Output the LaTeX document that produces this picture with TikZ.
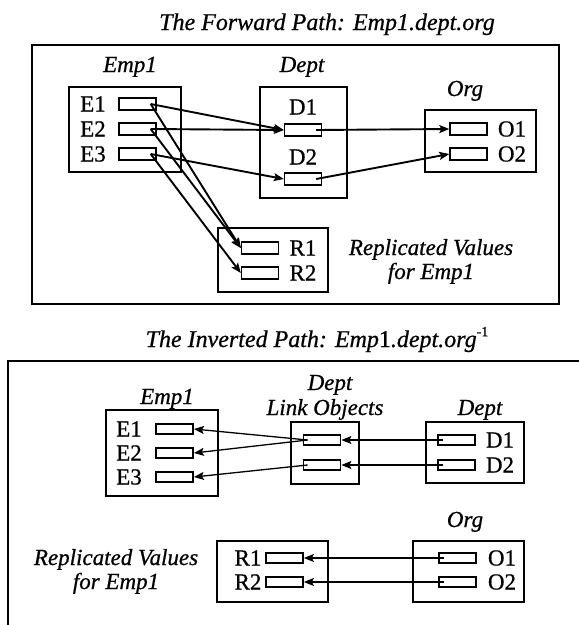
\documentclass[tikz,border=0pt]{standalone}
\usepackage{fontspec}
\setmainfont{Liberation Serif}[UprightFeatures={FakeBold=0.7},ItalicFeatures={FakeBold=0.7}]
\usetikzlibrary{arrows.meta}
\begin{document}
\begin{tikzpicture}[x=1pt,y=-1pt,
  lbl/.style={font=\fontsize{23}{26}\selectfont\itshape, inner sep=0pt, anchor=base},
  ttl/.style={font=\fontsize{24}{27}\selectfont\itshape, inner sep=0pt, anchor=base},
  txt/.style={font=\fontsize{23}{26}\selectfont, inner sep=0pt, anchor=base},
  box/.style={draw, line width=1.5pt, inner sep=0pt},
  cell/.style={draw, line width=1.4pt, minimum width=37pt, minimum height=12pt, inner sep=0pt},
  cellb/.style={draw, line width=1.8pt, minimum width=37pt, minimum height=10.5pt, inner sep=0pt},
  arr/.style={-{Stealth[length=10pt,width=8pt,inset=2pt]}, line width=1.9pt},
  arrb/.style={-{Stealth[length=10pt,width=8pt,inset=2pt]}, line width=1.3pt},
  frame/.style={draw, line width=1.2pt}
]
\useasboundingbox (0,0) rectangle (579,625);

% ================= Forward path =================
\node[ttl] (t1) at (327,30) {The Forward Path: Emp1.dept.org};
\draw[frame] (32,45) rectangle (559,304);

% Emp1
\node[lbl] (emplab) at (130,72) {Emp1};
\node[box, minimum width=112pt, minimum height=85pt] (empbox) at (125,129.5) {};
\node[txt] (e1t) at (93,111.5) {E1};
\node[txt] (e2t) at (93,136.5) {E2};
\node[txt] (e3t) at (93,161.5) {E3};
\node[cell] (e1r) at (137.5,104) {};
\node[cell] (e2r) at (137.5,129) {};
\node[cell] (e3r) at (137.5,154) {};

% Dept
\node[lbl] (deptlab) at (302,72) {Dept};
\node[box, minimum width=87pt, minimum height=111pt] (deptbox) at (303.5,142.5) {};
\node[txt] (d1t) at (303,114.5) {D1};
\node[txt] (d2t) at (303,164.5) {D2};
\node[cell] (d1r) at (303,130) {};
\node[cell] (d2r) at (303,179) {};

% Org
\node[lbl] (orglab) at (465,96) {Org};
\node[box, minimum width=111pt, minimum height=62pt] (orgbox) at (480.5,141) {};
\node[cell] (o1r) at (468.5,129) {};
\node[cell] (o2r) at (468.5,154) {};
\node[txt] (o1t) at (512,136.5) {O1};
\node[txt] (o2t) at (512,161.5) {O2};

% Replicated
\node[box, minimum width=110pt, minimum height=64pt] (rbox) at (273,260) {};
\node[cell] (r1r) at (260,248) {};
\node[cell] (r2r) at (260,273) {};
\node[txt] (r1t) at (303,255.5) {R1};
\node[txt] (r2t) at (303,280.5) {R2};
\node[lbl] (rep1) at (431,255) {Replicated Values};
\node[lbl] (rep2) at (431,279) {for Emp1};

% arrows
\draw[arr] ([xshift=-6pt]e1r.east) -- (d1r.west);
\draw[arr] ([xshift=-6pt]e2r.east) -- (d1r.west);
\draw[arr] ([xshift=-6pt]e3r.east) -- (d2r.west);
\draw[arr] ([xshift=-6pt]d1r.east) -- (o1r.west);
\draw[arr] ([xshift=-6pt]d2r.east) -- (o2r.west);
\draw[arr] ([xshift=-6pt]e1r.east) -- (r1r.west);
\draw[arr] ([xshift=-6pt]e2r.east) -- (r1r.west);
\draw[arr] ([xshift=-6pt]e3r.east) -- (r2r.west);

% ================= Inverted path =================
\node[ttl] (t2) at (317,347) {The Inverted Path: Emp{\upshape 1}.dept.org\raisebox{0.45em}{\fontsize{14}{14}\selectfont\upshape -1}};
\draw[frame] (8,625) -- (8,361) -- (579,361);

% Emp1
\node[lbl] (emplab2) at (167,404) {Emp1};
\node[box, minimum width=112pt, minimum height=86pt] (empbox2) at (162,453) {};
\node[txt] (be1t) at (129,436.5) {E1};
\node[txt] (be2t) at (129,460.5) {E2};
\node[txt] (be3t) at (129,484.5) {E3};
\node[cellb] (be1r) at (174.5,429) {};
\node[cellb] (be2r) at (174.5,453) {};
\node[cellb] (be3r) at (174.5,477) {};

% Dept link objects
\node[lbl] (dllab1) at (330,390) {Dept};
\node[lbl] (dllab2) at (325,415) {Link Objects};
\node[box, minimum width=68pt, minimum height=62pt] (dlbox) at (325,453) {};
\node[cellb] (l1r) at (322,440) {};
\node[cellb] (l2r) at (322,465) {};

% Dept
\node[lbl] (dlab2) at (480,415) {Dept};
\node[box, minimum width=98pt, minimum height=61pt] (dbox2) at (475,452.5) {};
\node[cellb] (bd1r) at (456.5,440) {};
\node[cellb] (bd2r) at (456.5,465) {};
\node[txt] (bd1t) at (500,447.5) {D1};
\node[txt] (bd2t) at (500,472.5) {D2};

% Org
\node[lbl] (olab2) at (465,527) {Org};
\node[box, minimum width=111pt, minimum height=61pt] (obox2) at (468.5,571.5) {};
\node[cellb] (bo1r) at (457.5,558) {};
\node[cellb] (bo2r) at (457.5,582) {};
\node[txt] (bo1t) at (502,565.5) {O1};
\node[txt] (bo2t) at (502,589.5) {O2};

% Replicated
\node[box, minimum width=111pt, minimum height=61pt] (rbox2) at (272.5,571.5) {};
\node[txt] (br1t) at (248,565.5) {R1};
\node[txt] (br2t) at (248,589.5) {R2};
\node[cellb] (br1r) at (284.5,558) {};
\node[cellb] (br2r) at (284.5,582) {};
\node[lbl] (brep1) at (116,565) {Replicated Values};
\node[lbl] (brep2) at (116,589) {for Emp1};

% arrows
\draw[arrb] ([xshift=5pt]l1r.west) -- (be1r.east);
\draw[arrb] ([xshift=5pt]l1r.west) -- (be2r.east);
\draw[arrb] ([xshift=5pt]l2r.west) -- (be3r.east);
\draw[arrb] ([xshift=6pt]bd1r.west) -- (l1r.east);
\draw[arrb] ([xshift=6pt]bd2r.west) -- (l2r.east);
\draw[arrb] ([xshift=6pt]bo1r.west) -- (br1r.east);
\draw[arrb] ([xshift=6pt]bo2r.west) -- (br2r.east);
\end{tikzpicture}
\end{document}
